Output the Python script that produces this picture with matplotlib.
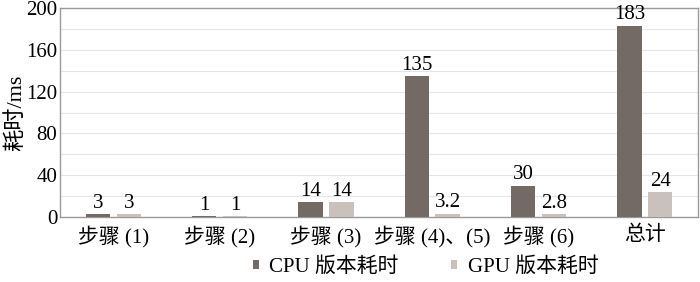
import numpy as np
import matplotlib.pyplot as plt

plt.rcParams['font.family'] = ['Liberation Serif', 'Noto Sans CJK SC']

# data
steps = ['步骤 (1)', '步骤 (2)', '步骤 (3)', '步骤 (4)、(5)', '步骤 (6)', '总计']
cpu_ms = [3, 1, 14, 135, 30, 183]
gpu_ms = [3, 1, 14, 3.2, 2.8, 24]
cpu_labels = ['3', '1', '14', '135', '30', '183']
gpu_labels = ['3', '1', '14', '3.2', '2.8', '24']

cpu_color = '#736a66'
gpu_color = '#cbc1bc'
fs = 15

fig = plt.figure(figsize=(7, 2.82), dpi=100)
ax = fig.add_axes([0.086, 0.23, 0.911, 0.742])

x = np.arange(len(steps))
w = 0.23
b1 = ax.bar(x - 0.145, cpu_ms, w, color=cpu_color, label='CPU 版本耗时', zorder=3)
b2 = ax.bar(x + 0.145, gpu_ms, w, color=gpu_color, label='GPU 版本耗时', zorder=3)
ax.bar_label(b1, labels=cpu_labels, padding=1, fontsize=fs)
ax.bar_label(b2, labels=gpu_labels, padding=1, fontsize=fs)

ax.set_xlim(-0.5, len(steps) - 0.5)
ax.set_ylim(0, 200)
ax.set_yticks(np.arange(0, 201, 40))
ax.set_yticks(np.arange(20, 200, 40), minor=True)
ax.grid(axis='y', which='both', color='#e6e6e6', linewidth=0.8, zorder=0)
ax.set_xticks(x)
ax.set_xticklabels(steps, fontsize=fs)
ax.tick_params(axis='y', labelsize=fs, length=0, pad=2)
ax.tick_params(axis='y', which='minor', length=0)
ax.tick_params(axis='x', length=0, pad=6)
ax.set_ylabel('耗时/ms', fontsize=16, labelpad=0)
for s in ax.spines.values():
    s.set_color('#9a9a9a')
    s.set_linewidth(1.0)

fig.legend(loc='lower center', bbox_to_anchor=(0.608, -0.05), ncol=2, frameon=False,
           fontsize=fs, handlelength=0.3, handleheight=0.3, columnspacing=2.5,
           handletextpad=0.5)

fig.savefig('out.png', dpi=100)
